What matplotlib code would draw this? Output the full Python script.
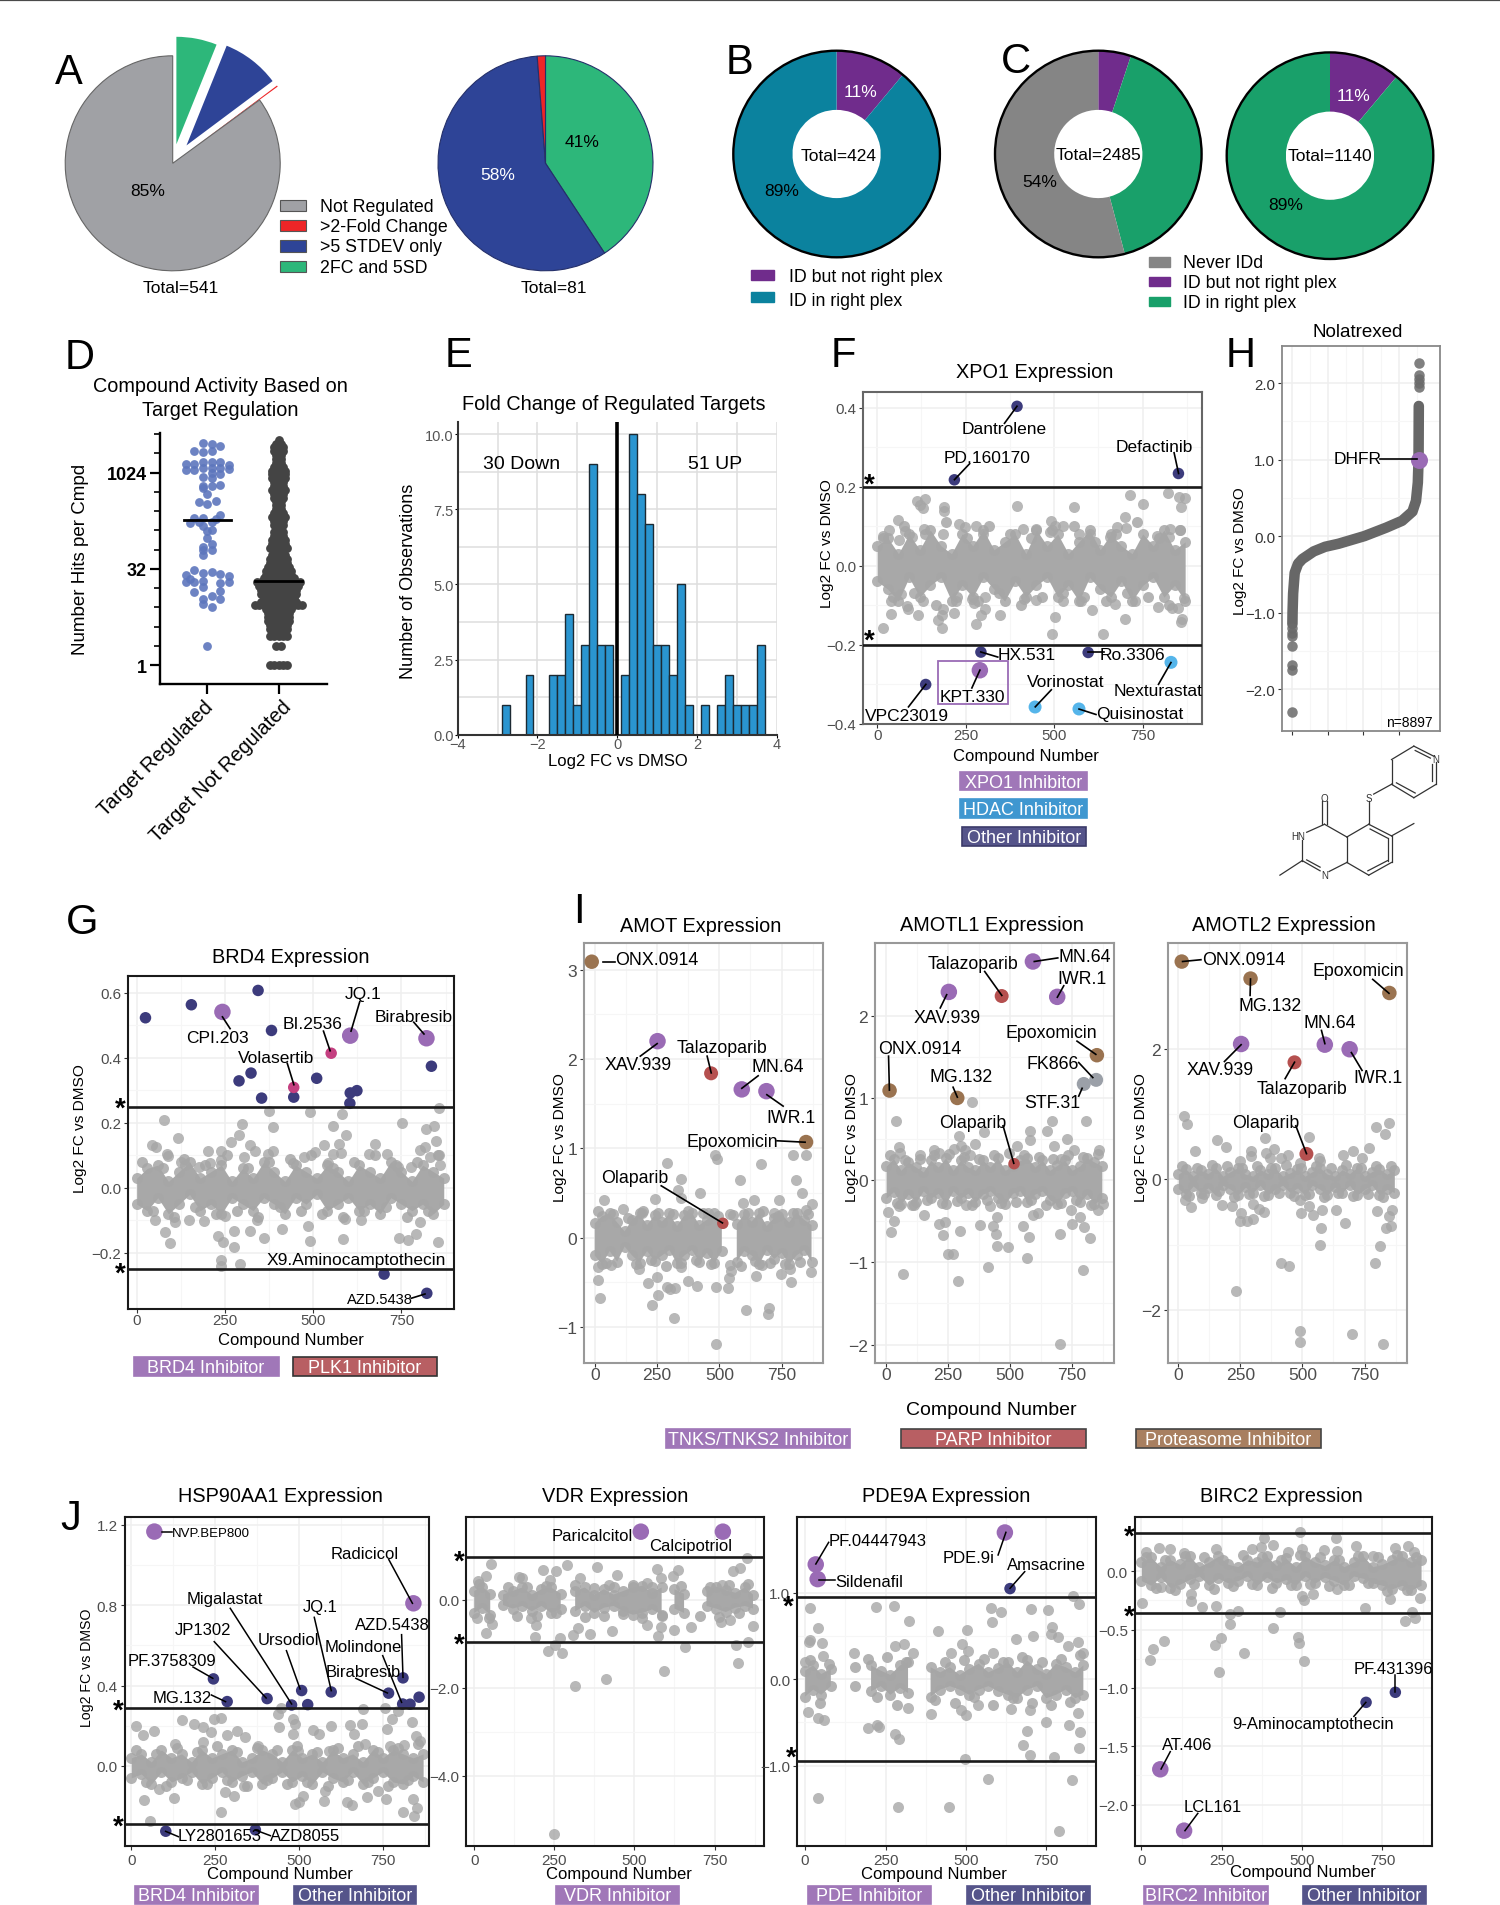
import numpy as np
import matplotlib
matplotlib.use("Agg")
import matplotlib.pyplot as plt
from matplotlib.lines import Line2D
from matplotlib.patches import Circle, Rectangle
from matplotlib.ticker import NullFormatter
from matplotlib.transforms import Affine2D

plt.rcParams['font.family'] = ['Liberation Sans', 'DejaVu Sans']

nan = float('nan')

# pies
a_all = [33, 47, 1, 460]
a_reg = [33, 47, 1]
b_vals = [47, 377]
c_all = [127, 1013, 1345]
c_seen = [127, 1013]

# D: swarm values, offset from the category centre and log2 of the hits
reg_off = [-.06, .06, .18, -.18, -.06, .06, -.3, -.18, -.06, .06, .18, .3, -.3, -.18, -.06, .06, .18, .3, .06, .18,
           -.06, .06, -.06, .06, .18, -.06, 0, -.12, 0, .12, .18, -.18, -.06, .12, -.24, -.12, .06, -.06, 0, .06,
           0, .06, -.06, .06, -.06, -.06, -.18, -.06, .06, .18, -.3, .3, -.24, -.3, -.18, -.06, .18, .3, -.06, -.18,
           .18, .06, -.06, .18, -.06, .06, 0]
reg_log2 = [11.55, 11.46, 11.36, 11.14, 11.04, 11.11, 10.43, 10.43, 10.55, 10.52, 10.55, 10.41, 10.14, 10.14, 10.23,
            10.23, 10.23, 10.16, 9.98, 9.93, 9.79, 9.71, 9.3, 9.29, 9.36, 9.18, 8.91, 8.45, 8.36, 8.5, 7.82, 7.64, 7.64,
            7.57, 7.39, 7.43, 7.43, 7.2, 6.98, 7.02, 6.61, 6.27, 6.14, 6, 6, 5.73, 4.93, 4.79, 4.84, 4.71, 4.7, 4.64,
            4.48, 4.3, 4.3, 4.39, 4.27, 4.3, 4.07, 3.82, 3.86, 3.59, 3.46, 3.45, 3.18, 3, 1]
reg_median = 7.54
nr_bins = [11.7, 11.5, 11.3, 11.1, 10.9, 10.7, 10.5, 10.3, 10.1, 9.9, 9.7, 9.5, 9.3, 9.1, 8.9, 8.7, 8.5, 8.3, 8.1, 7.9,
           7.7, 7.5, 7.3, 7.1, 6.9, 6.7, 6.5, 6.3, 6.1, 5.9, 5.7, 5.5, 5.3, 5.1, 4.9, 4.7, 4.5, 4.3, 4.1, 3.9, 3.7, 3.5,
           3.3, 3.1, 2.9, 2.7, 2.5, 2.3, 2.1, 1.9, 1.7, 1.5, 1.0, 0]
nr_counts = [1, 2, 3, 3, 2, 2, 2, 3, 4, 4, 4, 3, 3, 4, 3, 3, 2, 2, 2, 3, 4, 3, 3, 2, 3, 3, 4, 4, 5, 3, 4, 5, 5, 6, 7, 7,
             8, 11, 10, 9, 9, 8, 9, 12, 7, 6, 6, 6, 5, 5, 4, 5, 2, 5]
nr_median = 4.39

# E: histogram
e_centers = [-2.8, -2.2, -1.6, -1.4, -1.2, -1.0, -.8, -.6, -.4, -.2, .2, .4, .6, .8, 1.0, 1.2, 1.4, 1.6, 1.8, 2.2, 2.6,
             2.8, 3.0, 3.2, 3.4, 3.6]
e_counts = [1, 2, 2, 2, 4, 1, 3, 9, 3, 3, 2, 10, 8, 7, 3, 3, 2, 5, 1, 1, 1, 2, 1, 1, 1, 3]

# H: ranked fold change
h_rank = [0, 10, 50, 160, 400, 700, 1500, 2300, 3250, 5070, 6600, 7720, 8450, 8700, 8830, 8880, 8897]
h_fc = [-1.15, -1.0, -.75, -.48, -.36, -.3, -.2, -.14, -.1, 0, .11, .2, .32, .46, .7, 1.0, 1.7]
h_low = [-1.2, -1.27, -1.3, -1.43, -1.68, -1.75, -2.3]
h_high = [1.95, 2.0, 2.05, 2.1, 2.26]
h_hit = (8880, 1.0)

# compound screens: dense core, points just off the core, sparse compounds, named hits
band_x = [0, 30, 60, 90, 120, 150, 180, 210, 240, 270, 300, 330, 360, 390, 420, 450, 480, 510, 540, 570, 600, 630, 660,
          690, 720, 750, 780, 810, 840, 870]
near_x = [15, 45, 75, 105, 135, 165, 195, 225, 255, 285, 315, 345, 375, 405, 435, 465, 495, 525, 555, 585, 615, 645, 675,
          705, 735, 765, 795, 825, 855]

f_top = [.05, .07, .03, .08, .04, .09, .05, .03, .08, .05, .09, .04, .06, .08, .03, .09, .05, .08, .03, .06, .09, .04,
         .08, .05, .03, .08, .05, .09, .04, .06]
f_bot = [-.04, -.06, -.09, -.03, -.08, -.05, -.03, -.09, -.05, -.08, -.03, -.06, -.09, -.04, -.08, -.05, -.03, -.08,
         -.05, -.09, -.03, -.06, -.08, -.04, -.09, -.05, -.03, -.08, -.05, -.09]
f_near = [.07, -.08, .1, -.07, .08, -.1, .11, -.08, .07, -.09, .1, -.07, .08, -.1, .07, -.08, .09, -.07, .1, -.08, .06,
          -.09, .08, -.07, .11, -.08, .07, -.1, .09]
f_gray = [(112, .164), (120, .154), (135, .169), (130, .145), (188, .147), (190, .139), (59, .116), (15, .076), (32, .09),
          (79, .088), (62, .065), (132, .092), (97, .072), (230, .104), (248, .097), (280, .099), (185, .081), (299, .081),
          (395, .15), (412, .093), (450, .093), (555, .149), (491, .113), (501, .099), (526, .101), (488, .086), (571, .079),
          (601, .079), (715, .179), (752, .155), (700, .123), (677, .097), (702, .095), (657, .072), (791, .076), (822, .184),
          (854, .173), (869, .17), (857, .148), (826, .092), (855, .09), (823, .072), (16, -.158), (40, -.123), (38, -.089),
          (66, -.073), (85, -.103), (87, -.109), (116, -.126), (129, -.089), (185, -.109), (183, -.126), (173, -.138),
          (184, -.158), (217, -.12), (223, -.089), (267, -.085), (274, -.094), (305, -.08), (305, -.109), (293, -.126),
          (280, -.147), (346, -.124), (416, -.085), (448, -.087), (503, -.131), (494, -.174), (526, -.089), (576, -.089),
          (607, -.112), (637, -.172), (673, -.097), (701, -.136), (728, -.089), (793, -.105), (834, -.108), (851, -.108),
          (860, -.135), (857, -.142), (866, -.082)]
f_hits = [(395, .403), (218, .217), (851, .233), (293, -.219), (596, -.22), (137, -.301), (290, -.265), (446, -.358),
          (570, -.363), (830, -.245)]
f_kinds = ['other', 'other', 'other', 'other', 'other', 'other', 'target', 'hdac', 'hdac', 'hdac']

g_top = [.03, .06, .07, .02, .05, .08, .03, .05, .07, .02, .06, .03, .08, .05, .02, .07, .05, .03, .07, .05, .02, .07,
         .05, .03, .08, .05, .02, .07, .05, .03]
g_bot = [-.05, -.07, -.03, -.08, -.05, -.02, -.07, -.05, -.08, -.03, -.05, -.07, -.03, -.05, -.08, -.03, -.05, -.02,
         -.07, -.05, -.03, -.07, -.05, -.08, -.03, -.05, -.07, -.05, -.08, -.05]
g_near = [.08, -.07, .06, -.09, .09, -.06, .07, -.08, .1, -.07, .06, -.09, .08, -.06, .09, -.07, .1, -.08, .06, -.09, .08,
          -.07, .1, -.06, .07, -.09, .08, -.07, .1]
g_gray = [(78, .209), (43, .131), (55, .125), (90, .098), (87, .103), (116, .153), (127, .081), (137, .07), (202, .112),
          (207, .078), (176, .063), (238, .112), (238, .087), (267, .14), (289, .164), (298, .195), (321, .133), (335, .114),
          (303, .095), (386, .186), (376, .235), (387, .114), (371, .103), (442, .076), (475, .096), (491, .233), (530, .131),
          (506, .111), (542, .076), (555, .191), (582, .226), (574, .136), (592, .164), (556, .103), (578, .107), (676, .135),
          (657, .105), (708, .105), (751, .199), (740, .065), (777, .065), (802, .116), (819, .18), (842, .189), (856, .245),
          (848, .144), (816, .125), (831, .096), (857, .101), (860, .07), (79, -.135), (94, -.168), (51, -.1), (108, -.105),
          (149, -.098), (192, -.102), (231, -.149), (246, -.166), (275, -.182), (238, -.221), (240, -.24), (292, -.233),
          (249, -.087), (277, -.131), (321, -.131), (340, -.1), (361, -.155), (413, -.127), (484, -.116), (491, -.164),
          (584, -.157), (590, -.095), (636, -.1), (743, -.153), (770, -.16), (790, -.142), (802, -.105), (854, -.166)]
g_hits = [(25, .523), (155, .563), (344, .607), (382, .484), (290, .329), (324, .353), (354, .276), (445, .279), (510, .337),
          (605, .292), (624, .299), (604, .26), (835, .374), (701, -.265), (822, -.324), (243, .541), (605, .468), (821, .46),
          (551, .414), (445, .309)]
g_kinds = ['other'] * 15 + ['target'] * 3 + ['plk'] * 2

amot_top = [.16, .24, .27, .17, .07, .2, .27, .14, .25, .18, .27, .13, .25, .28, .14, .2, .27, .16, nan, .15, .26, .18, .28,
            .13, .22, .26, .17, .28, .2, .14]
amot_bot = [-.2, -.3, -.15, -.27, -.1, -.2, -.28, -.15, -.26, -.2, -.14, -.29, -.2, -.14, -.27, -.17, -.29, -.15, nan,
            -.27, -.15, -.2, -.3, -.14, -.24, -.17, -.3, -.2, -.14, -.27]
amot_near = [.3, -.28, .26, nan, .22, -.3, .3, -.25, .28, -.32, .26, -.28, .3, -.25, .27, -.3, .24, nan, .25, -.32, .28,
             -.26, .3, -.28, .24, -.3, .28, -.27, .26]
amot_gray = [(39, .42), (113, .32), (190, .27), (240, .43), (289, .84), (346, .66), (336, .53), (346, .44), (424, .5),
             (482, .93), (492, .88), (582, .64), (668, .82), (594, .39), (639, .42), (738, .42), (807, .64), (795, .93),
             (848, .93), (830, .5), (871, .38), (848, .31), (541, .26), (455, .27), (721, .27), (14, -.47), (23, -.68),
             (14, -.33), (66, -.31), (178, -.35), (213, -.51), (250, -.44), (254, -.64), (230, -.75), (291, -.55),
             (301, -.58), (324, -.57), (318, -.9), (348, -.33), (373, -.49), (410, -.54), (486, -.55), (533, -.56),
             (537, -.45), (541, -.31), (547, -.37), (486, -1.19), (609, -.81), (701, -.79), (697, -.86), (746, -.41),
             (789, -.5), (783, -.35), (869, -.38), (648, -.43), (670, -.31)]
amot_hits = [(-12, 3.09), (252, 2.2), (467, 1.84), (590, 1.66), (689, 1.64), (848, 1.07), (514, .16)]
amot_kinds = ['prot', 'target', 'parp', 'target', 'target', 'prot', 'parp_small']

l1_top = [.17, .26, .12, .22, .16, .1, .24, .16, .27, .12, .24, .16, .12, .24, .16, .27, .12, .17, .24, .27, .16, .24, .12,
          .18, .24, .12, .17, .27, .22, .17]
l1_bot = [-.22, -.14, -.29, -.17, -.27, -.13, -.22, -.16, -.29, -.13, -.22, -.16, -.27, -.17, -.13, -.22, -.29, -.16, -.13,
          -.27, -.17, -.13, -.24, -.29, -.16, -.13, -.27, -.17, -.29, -.22]
l1_near = [.3, -.28, .24, -.3, .26, -.24, .3, -.28, .32, -.25, .28, -.3, .26, -.24, .3, -.28, .33, -.26, .3, -.24, .28, -.3,
           .26, -.28, .31, -.24, .28, -.3, .32]
l1_gray = [(348, .95), (38, .72), (53, .4), (55, .33), (136, .31), (193, .37), (213, .33), (294, .54), (274, .38), (303, .42),
           (317, .37), (339, .3), (360, .44), (394, .58), (528, .41), (580, .6), (580, .49), (647, .6), (668, .72), (678, .41),
           (728, .5), (706, .26), (756, .37), (807, .72), (859, .37), (9, -.39), (33, -.5), (21, -.63), (67, -1.14), (50, -.32),
           (114, -.3), (153, -.43), (213, -.53), (239, -.51), (231, -.67), (299, -.62), (251, -.9), (270, -.9), (289, -1.23),
           (322, -.3), (380, -.54), (420, -.32), (430, -.56), (442, -.65), (446, -.45), (446, -.8), (492, -.81), (411, -1.06),
           (552, -.56), (575, -.69), (568, -.95), (592, -.43), (613, -.4), (701, -.66), (750, -.53), (747, -.36), (781, -.45),
           (800, -.57), (823, -.7), (792, -1.09), (702, -1.99), (876, -.29), (855, -.36)]
l1_hits = [(592, 2.66), (466, 2.24), (690, 2.23), (253, 2.29), (14, 1.09), (287, 1.0), (850, 1.52), (847, 1.22), (797, 1.17),
           (516, .2)]
l1_kinds = ['target', 'parp', 'target', 'target', 'prot', 'prot', 'prot', 'gray', 'gray', 'parp_small']

l2_top = [.08, .16, .05, .14, .09, .18, .05, .12, .18, .08, .05, .15, .09, .18, .05, .1, .16, .05, .12, .18, .08, .05, .15,
          .09, .18, .05, .12, .16, .08, .14]
l2_bot = [-.14, -.23, -.1, -.2, -.13, -.24, -.09, -.15, -.24, -.12, -.2, -.09, -.24, -.15, -.09, -.2, -.13, -.24, -.09,
          -.15, -.24, -.12, -.2, -.09, -.24, -.15, -.09, -.24, -.15, -.2]
l2_near = [.2, -.26, .17, -.22, .22, -.18, .2, -.27, .18, -.22, .21, -.26, .18, -.2, .22, -.26, .17, -.22, .2, -.27, .18,
           -.2, .22, -.26, .17, -.22, .2, -.27, .21]
l2_gray = [(22, .97), (34, .85), (67, .44), (155, .61), (191, .5), (291, .44), (293, .36), (250, .28), (348, .63), (353, .4),
           (384, .46), (370, .33), (413, .33), (442, .37), (525, .65), (568, .33), (571, .28), (490, .25), (702, .43),
           (740, .32), (769, .48), (797, .8), (833, .69), (849, .87), (663, .37), (26, -.32), (53, -.42), (95, -.29), (176, -.39),
           (215, -.41), (253, -.52), (250, -.64), (275, -.63), (301, -.6), (301, -.38), (324, -.45), (344, -.5), (490, -.31),
           (494, -.51), (528, -.4), (542, -.54), (577, -.46), (573, -.75), (570, -1.01), (637, -.46), (671, -.66), (413, -1.28),
           (447, -1.32), (231, -1.7), (490, -2.32), (490, -2.48), (700, -2.37), (823, -2.51), (792, -1.28), (811, -1.02),
           (835, -.75), (855, -.71), (849, -.56), (861, -.46), (800, -.48)]
l2_hits = [(14, 3.33), (291, 3.07), (850, 2.85), (253, 2.07), (590, 2.06), (690, 1.99), (468, 1.79), (516, .39)]
l2_kinds = ['prot', 'prot', 'prot', 'target', 'target', 'target', 'parp', 'parp']

hsp_top = [.04, .06, .02, .08, .04, .06, .02, .08, .04, .06, .08, .02, .04, .08, .06, .02, .08, .04, .06, .02, .08,
           .04, .06, .02, .08, .04, .08, .06, .04, .06]
hsp_bot = [-.06, -.04, -.09, -.03, -.08, -.06, -.03, -.09, -.06, -.03, -.08, -.05, -.03, -.09, -.06, -.03, -.08, -.05,
           -.09, -.03, -.06, -.08, -.03, -.09, -.06, -.03, -.08, -.09, -.05, -.08]
hsp_near = [.08, -.08, .06, -.1, .09, -.07, .07, -.09, .1, -.07, .07, -.1, .09, -.07, .08, -.09, .1, -.08, .07, -.1, .09,
            -.07, .1, -.08, .07, -.1, .09, -.07, .11]
hsp_gray = [(14, .197), (35, .156), (68, .176), (152, .226), (188, .207), (215, .196), (248, .234), (267, .237), (239, .167),
            (286, .156), (314, .176), (339, .143), (215, .118), (131, .109), (440, .192), (447, .289), (437, .259), (482, .234),
            (489, .209), (482, .159), (541, .179), (560, .159), (596, .201), (651, .204), (665, .159), (689, .209), (692, .284),
            (757, .287), (778, .234), (762, .184), (796, .275), (838, .217), (848, .151), (862, .126), (698, .109), (771, .101),
            (813, .104), (377, .101), (496, .076), (588, .076), (55, -.275), (39, -.172), (128, -.161), (269, -.231), (84, -.114),
            (281, -.131), (307, -.148), (335, -.098), (489, -.189), (499, -.181), (513, -.148), (574, -.177), (577, -.123),
            (644, -.181), (658, -.194), (703, -.156), (759, -.164), (809, -.231), (844, -.25), (852, -.211), (841, -.164),
            (736, -.123)]
hsp_hits = [(245, .433), (286, .32), (405, .335), (478, .303), (508, .375), (526, .305), (596, .368), (767, .362), (810, .438),
            (809, .308), (831, .307), (858, .342), (103, -.325), (370, -.318), (69, 1.166), (841, .809)]
hsp_kinds = ['other'] * 14 + ['target'] * 2

vdr_bx = [0, 25, 50, 70, 90, 120, 150, 180, 210, 240, 270, 293, 315, 345, 375, 405, 435, 465, 495, 525, 555, 585, 605, 625,
          655, 690, 725, 755, 785, 815, 845, 870]
vdr_top = [.2, .3, .14, nan, .12, .2, .28, .12, .24, .28, .14, nan, .2, .28, .12, .24, .12, .2, .28, .32, .16, .28, nan,
           .24, .14, nan, .2, .3, .22, .16, .28, .12]
vdr_bot = [-.3, -.18, -.34, nan, -.12, -.2, -.14, -.26, -.14, -.3, -.2, nan, -.26, -.14, -.3, -.18, -.14, -.26, -.34,
           -.3, -.22, -.34, nan, -.2, -.3, nan, -.14, -.2, -.28, -.18, -.14, -.2]
vdr_near = [.35, -.42, nan, .28, -.38, .3, -.36, .32, -.3, nan, .34, -.4, .26, -.38, .3, -.32, .34, -.42, .3, -.38, nan,
            .32, nan, -.36, .3, -.4, .34, -.3, .36]
vdr_gray = [(52, .81), (13, .42), (38, .54), (216, .67), (289, .79), (256, .65), (383, .75), (330, .5), (421, .34), (446, .56),
            (570, .71), (635, .67), (620, .55), (583, .5), (850, .94), (829, .73), (809, .65), (141, .52), (149, .5), (237, .46),
            (539, .38), (772, .34), (38, -.75), (56, -.55), (9, -.42), (190, -.84), (178, -.42), (193, -.57), (231, -1.16),
            (252, -1.03), (267, -.88), (274, -1.2), (308, -.8), (361, -.77), (323, -.65), (431, -.7), (315, -1.97), (412, -1.8),
            (249, -5.33), (573, -.82), (583, -.61), (623, -.69), (657, -1.07), (676, -.61), (591, -1.62), (816, -1.03),
            (854, -.97), (822, -1.43), (870, -.59), (770, -.5), (797, -.46), (539, -.57)]
vdr_hits = [(520, 1.55), (776, 1.55)]
vdr_kinds = ['target', 'target']

pde_bx = [0, 25, 50, 80, 118, 155, 180, 205, 235, 265, 295, 320, 355, 390, 420, 450, 480, 510, 540, 570, 600, 630, 660, 690,
          720, 750, 780, 810, 840, 865]
pde_top = [.1, .16, .06, .12, nan, .14, nan, .16, .1, .05, .16, .2, nan, .14, .08, .14, .05, .12, .18, .08, .13, .2, .08,
           .22, .12, .06, .18, .14, .08, .16]
pde_bot = [-.2, -.12, -.18, -.08, nan, -.08, nan, -.14, -.08, -.18, -.1, -.16, nan, -.2, -.12, -.08, -.12, -.18, -.12, -.08,
           -.14, -.18, -.22, -.12, -.08, -.22, -.18, -.12, -.22, -.18]
pde_near = [.22, -.28, .18, nan, nan, nan, .24, -.2, .26, -.3, .2, nan, nan, -.24, .2, -.28, .22, -.2, .24, -.3, .2, -.22,
            .26, -.28, .2, -.3, .24, -.26, .28]
pde_gray = [(16, .82), (219, .84), (276, .85), (324, .68), (413, .56), (504, .57), (579, .83), (610, .78), (581, .66), (703, .81),
            (754, .8), (767, .61), (833, .97), (853, .87), (41, .59), (11, .43), (16, .46), (51, .42), (656, .47), (707, .5),
            (764, .52), (786, .49), (817, .38), (847, .43), (307, .41), (279, .38), (489, .41), (153, .3), (336, .3), (454, .3),
            (507, .33), (583, .3), (864, .3), (57, .27), (0, .2), (10, -.38), (39, -.45), (59, -.47), (196, -.57), (224, -.53),
            (230, -.55), (279, -.63), (291, -.69), (321, -.33), (390, -.4), (486, -.36), (500, -.41), (536, -.3), (640, -.34),
            (700, -.36), (750, -.5), (689, -.6), (676, -.76), (700, -.88), (773, -.9), (496, -.92), (821, -.53), (856, -.61),
            (851, -.8), (847, -.39), (569, -1.16), (829, -1.17), (39, -1.38), (289, -1.48), (446, -1.48), (790, -1.76)]
pde_hits = [(33, 1.33), (39, 1.16), (621, 1.7), (637, 1.05)]
pde_kinds = ['target', 'target', 'target', 'other']

birc_top = [.08, .12, .04, .1, .06, .13, .04, .08, .13, .06, .04, .1, .08, .13, .05, .11, .04, .13, .08, .05, .1, .04, .08,
            .13, .04, .06, .1, .13, .08, .1]
birc_bot = [-.08, -.12, -.05, -.14, -.11, -.07, -.04, -.12, -.06, -.1, -.08, -.04, -.12, -.05, -.1, -.07, -.12, -.04, -.1,
            -.05, -.08, -.12, -.04, -.06, -.1, -.12, -.15, -.12, -.16, -.12]
birc_near = [.12, -.14, .1, -.16, .13, -.11, .12, -.15, .1, -.13, .14, -.11, .12, -.14, .1, -.12, .14, -.11, .12, -.13, .1,
             -.12, .13, -.1, .12, -.17, .14, -.16, .12]
birc_gray = [(493, .34), (380, .286), (604, .286), (54, .197), (90, .191), (14, .163), (133, .157), (233, .191), (343, .191),
             (373, .206), (411, .226), (501, .191), (569, .183), (610, .177), (669, .214), (790, .203), (829, .22), (847, .163),
             (719, .134), (457, .163), (1, -.271), (61, -.137), (154, -.194), (154, -.251), (190, -.303), (233, -.294),
             (276, -.366), (301, -.337), (277, -.451), (411, -.486), (430, -.346), (247, -.574), (230, -.634), (319, -.703),
             (241, -.866), (486, -.56), (490, -.617), (507, -.771), (37, -.666), (26, -.757), (69, -.594), (501, -.209),
             (507, -.243), (697, -.317), (773, -.237), (820, -.429), (841, -.346), (851, -.4), (867, -.229), (533, -.194),
             (607, -.151)]
birc_hits = [(790, -1.037), (699, -1.123), (59, -1.697), (133, -2.223)]
birc_kinds = ['other', 'other', 'target', 'target']

# styles
KIND_COLOR = {'other': '#3c3b7c', 'target': '#9a6bb5', 'hdac': '#55b5ea', 'plk': '#c43f80', 'parp': '#b5504f',
              'parp_small': '#b5504f', 'prot': '#9a7350', 'gray': '#9ba0a8'}
KIND_PX = {'other': 11.5, 'target': 16.5, 'hdac': 13, 'plk': 11.5, 'parp': 14, 'parp_small': 11.5, 'prot': 14.5, 'gray': 14}
GRAY = '#a6a6a6'
PURPLE_TAG, HDAC_TAG, OTHER_TAG, RED_TAG, BROWN_TAG = '#a077b8', '#3f97d0', '#55548a', '#b85f63', '#a87f60'

W, H = 1500, 1906
fig = plt.figure(figsize=(W / 100, H / 100), dpi=100)
px = Affine2D().scale(1 / W, -1 / H).translate(0, 1) + fig.transFigure

# crops of the reference used to place text: left, top, x stretch, y stretch
Z1, Z2 = (0, 0, 2.09, 3), (750, 0, 2.09, 3)
Z3, Z4 = (50, 330, 2.119, 2.904), (800, 320, 2.24, 2.751)
Z5, Z6 = (50, 900, 1.96, 2.8), (830, 900, 2.34, 2.8)
Z7, Z8 = (50, 1470, 2.119, 3), (780, 1470, 2.178, 3)
TITLE = 14.3


def zp(z, x, y):
    return z[0] + x / z[2], z[1] + y / z[3]


def txt(z, x, y, s, size=12.5, color='black', ha='center', rot=0, **kw):
    fx, fy = zp(z, x, y)
    return fig.text(fx, fy + 1, s, transform=px, fontsize=size, color=color, ha=ha, va='center', rotation=rot, **kw)


def lead(z, x1, y1, x2, y2, lw=1.2, color='black'):
    a, b = zp(z, x1, y1), zp(z, x2, y2)
    fig.add_artist(Line2D([a[0], b[0]], [a[1], b[1]], transform=px, color=color, lw=lw))


def rect(z, x1, y1, x2, y2, color, edge=None, lw=1):
    a, b = zp(z, x1, y1), zp(z, x2, y2)
    fig.add_artist(Rectangle((a[0], a[1]), b[0] - a[0], b[1] - a[1], transform=px, facecolor=color,
                             edgecolor=edge or color, lw=lw))


def tag(z, x1, y1, x2, y2, color, s, edge=None):
    rect(z, x1, y1, x2, y2, color, edge, 1.2)
    txt(z, (x1 + x2) / 2, (y1 + y2) / 2, s, 13, 'white')


def star(z, x, y):
    txt(z, x, y + 6, '*', 20, fontweight='bold')


def axes_px(l, t, r, b):
    return fig.add_axes([l / W, 1 - b / H, (r - l) / W, (b - t) / H])


def s_px(d):
    return (d * 0.72) ** 2


def pie_axes(cx, cy, R, vals, colors, explode=None, hole=None, edge=None):
    pad = 1.35
    ax = axes_px(cx - pad * R, cy - pad * R, cx + pad * R, cy + pad * R)
    wp = {'linewidth': 0.8 if edge else 0, 'edgecolor': edge or 'none'}
    if hole:
        wp['width'] = 1 - hole
    ax.pie(vals, colors=colors, startangle=90, counterclock=False, explode=explode, radius=1, wedgeprops=wp)
    ax.set_xlim(-pad, pad)
    ax.set_ylim(-pad, pad)
    if hole:
        ax.add_patch(Circle((0, 0), 1, fill=False, ec='black', lw=1.7))
    return ax


def screen(box, xlim, ylim, yt, ytl, cuts, bx, top, bot, near, gray, hits, kinds, spine='#222222', tick=10.8, xpad=0):
    ax = axes_px(*box)
    ax.set_xlim(*xlim)
    ax.set_ylim(*ylim)
    ax.set_xticks([0, 250, 500, 750], ['0', '250', '500', '750'])
    ax.set_yticks(yt, ytl)
    ax.set_xticks([125, 375, 625, 875], minor=True)
    ax.set_yticks([(a + b) / 2 for a, b in zip(yt[:-1], yt[1:])], minor=True)
    ax.tick_params(which='major', labelsize=tick, labelcolor='#4d4d4d', color='#333333', length=3, pad=2)
    ax.tick_params(axis='x', which='major', pad=xpad)
    ax.tick_params(which='minor', length=0)
    ax.grid(True, which='major', color='#efefef', lw=1.1)
    ax.grid(True, which='minor', color='#f6f6f6', lw=0.8)
    ax.set_axisbelow(True)
    for sp in ax.spines.values():
        sp.set_color(spine)
        sp.set_linewidth(1.5)
    ax.fill_between(bx, bot, top, color='#a8a8a8', lw=0, zorder=1.5)
    ax.scatter(bx, top, s=s_px(11), color=GRAY, alpha=0.85, lw=0, zorder=2)
    ax.scatter(bx, bot, s=s_px(11), color=GRAY, alpha=0.85, lw=0, zorder=2)
    ax.scatter(near_x, near, s=s_px(11), color=GRAY, alpha=0.85, lw=0, zorder=2)
    gx, gy = zip(*gray)
    ax.scatter(gx, gy, s=s_px(11), color=GRAY, alpha=0.8, lw=0, zorder=2.1)
    hx, hy = zip(*hits)
    ax.scatter(hx, hy, s=[s_px(KIND_PX[k]) for k in kinds], c=[KIND_COLOR[k] for k in kinds], lw=0, zorder=3)
    for c in cuts:
        ax.axhline(c, color='#1a1a1a', lw=1.9, zorder=4)
    return ax


# header rule
fig.add_artist(Line2D([0, W], [1, 1], transform=px, color='#4a4a4a', lw=1.6))

# A
AC = ['#2db77a', '#2e4497', '#ee2527', '#a0a1a5']
ax_a = pie_axes(172.7, 164.3, 107.5, a_all, AC, explode=[.18, .21, .21, 0])
ax_a.patches[3].set_edgecolor('#666666')
ax_a.patches[3].set_linewidth(0.8)
pie_axes(545.5, 164.3, 107.5, a_reg, ['#2db77a', '#2e4497', '#ee2527'], edge='#25306a')
txt(Z1, 143, 215, 'A', 30)
txt(Z1, 308, 572, '85%', 12.5)
txt(Z1, 378, 862, 'Total=541', 12.5)
txt(Z1, 1216, 425, '41%', 12.5)
txt(Z1, 1040, 525, '58%', 12.5, 'white')
txt(Z1, 1157, 862, 'Total=81', 12.5)
for yy, c, s in zip([(602, 636), (662, 696), (724, 758), (785, 819)], ['#a0a1a5', '#ee2527', '#2e4497', '#2db77a'],
                    ['Not Regulated', '>2-Fold Change', '>5 STDEV only', '2FC and 5SD']):
    rect(Z1, 586, yy[0], 640, yy[1], c, '#555555', 0.8)
    txt(Z1, 668, sum(yy) / 2, s, 12.8, ha='left')

# B
pie_axes(836.6, 155, 103.3, b_vals, ['#702c8c', '#0b829e'], hole=.427)
txt(Z1, 1545, 185, 'B', 30)
txt(Z2, 231, 275, '11%', 12.5, 'white')
txt(Z2, 67, 573, '89%', 12.5)
txt(Z2, 185, 467, 'Total=424', 12.5)
rect(Z2, 2, 812, 50, 842, '#702c8c')
rect(Z2, 2, 880, 50, 908, '#0b829e')
txt(Z2, 82, 828, 'ID but not right plex', 12.8, ha='left')
txt(Z2, 82, 900, 'ID in right plex', 12.8, ha='left')

# C
pie_axes(1098.3, 155, 103.3, c_all, ['#702c8c', '#19a06a', '#858585'], hole=.427)
pie_axes(1330, 156.7, 103.3, c_seen, ['#702c8c', '#19a06a'], hole=.427)
txt(Z2, 556, 182, 'C', 30)
txt(Z2, 605, 545, '54%', 12.5)
txt(Z2, 728, 463, 'Total=2485', 12.5)
txt(Z2, 1212, 467, 'Total=1140', 12.5)
txt(Z2, 1262, 287, '11%', 12.5, 'white')
txt(Z2, 1119, 615, '89%', 12.5)
for yy, c, s in zip([(775, 803), (835, 862), (893, 920)], ['#858585', '#702c8c', '#19a06a'],
                    ['Never IDd', 'ID but not right plex', 'ID in right plex']):
    rect(Z2, 833, yy[0], 877, yy[1], c)
    txt(Z2, 904, sum(yy) / 2, s, 12.8, ha='left')

# D
ax = axes_px(159.5, 434, 327, 684.7)
ax.set_yscale('log', base=2)
ax.set_xlim(-.67, 1.68)
ax.set_ylim(2 ** -.96, 2 ** 12.05)
ax.scatter(reg_off, 2.0 ** np.array(reg_log2), s=s_px(8.8), color='#5d76bd', alpha=.9, lw=0, zorder=2)
nx, ny = [], []
for b, n in zip(nr_bins, nr_counts):
    for i in range(n):
        nx.append(1 + (i - (n - 1) / 2) * .06)
        ny.append(2.0 ** b)
ax.scatter(nx, ny, s=s_px(8.8), color='#444444', lw=0, zorder=2)
ax.plot([-.33, .33], [2 ** reg_median] * 2, color='black', lw=2, zorder=3)
ax.plot([.67, 1.33], [2 ** nr_median] * 2, color='black', lw=2, zorder=3)
ax.set_yticks([1, 32, 1024], ['1', '32', '1024'], fontweight='bold', fontsize=13)
ax.set_yticks([2.0 ** i for i in range(13)], minor=True)
ax.yaxis.set_minor_formatter(NullFormatter())
ax.set_xticks([0, 1], [])
ax.tick_params(which='major', length=7, width=1.6, pad=2)
ax.tick_params(which='minor', length=4, width=1.2)
ax.spines[['top', 'right']].set_visible(False)
ax.spines[['left', 'bottom']].set_linewidth(1.7)
txt(Z3, 62, 78, 'D', 30)
txt(Z3, 361, 162, 'Compound Activity Based on', TITLE)
txt(Z3, 361, 232, 'Target Regulation', TITLE)
txt(Z3, 65, 662, 'Number Hits per Cmpd', 13.5, rot=90)
for xx, s in zip([326, 490], ['Target Regulated', 'Target Not Regulated']):
    fx, fy = zp(Z3, xx, 1068)
    fig.text(fx, fy, s, transform=px, fontsize=14.5, rotation=45, ha='right', va='top', rotation_mode='anchor')

# E
ax = axes_px(457.7, 423, 776.8, 735.6)
ax.set_xlim(-4, 4)
ax.set_ylim(0, 10.41)
ax.bar(e_centers, e_counts, width=.2, color='#2a95d0', edgecolor='#1c2a33', lw=1, zorder=2)
ax.axvline(0, color='black', lw=2.6, zorder=3)
ax.set_xticks([-4, -2, 0, 2, 4], ['−4', '−2', '0', '2', '4'])
ax.set_xticks([-3, -1, 1, 3], minor=True)
ax.set_yticks([0, 2.5, 5, 7.5, 10], ['0.0', '2.5', '5.0', '7.5', '10.0'])
ax.set_yticks([1.25, 3.75, 6.25, 8.75], minor=True)
ax.tick_params(which='major', labelsize=10.5, labelcolor='#555555', length=2, pad=1)
ax.tick_params(axis='x', which='major', pad=0)
ax.tick_params(which='minor', length=0)
ax.grid(True, which='both', color='#dedede', lw=1.1)
ax.set_axisbelow(True)
ax.spines[['top', 'right']].set_visible(False)
ax.spines[['left', 'bottom']].set_color('#333333')
ax.spines[['left', 'bottom']].set_linewidth(1.5)
txt(Z3, 865, 72, 'E', 30)
txt(Z3, 1195, 212, 'Fold Change of Regulated Targets', TITLE)
txt(Z3, 1000, 387, '30 Down', 14)
txt(Z3, 1410, 387, '51 UP', 14)
txt(Z3, 1204, 1250, 'Log2 FC vs DMSO', 12)
txt(Z3, 760, 727, 'Number of Observations', 13, rot=90)

# F
ax = screen((863.4, 392.7, 1201.8, 724.6), (-39, 917), (-.4, .44), [-.4, -.2, 0, .2, .4],
            ['−0.4', '−0.2', '0.0', '0.2', '0.4'], [.2, -.2], band_x, f_top, f_bot, f_near, f_gray, f_hits, f_kinds, '#666666')
txt(Z4, 97, 95, 'F', 30)
txt(Z4, 526, 143, 'XPO1 Expression', TITLE)
txt(Z4, 60, 612, 'Log2 FC vs DMSO', 11.1, rot=90)
txt(Z4, 505, 1197, 'Compound Number', 12)
star(Z4, 155, 447)
star(Z4, 155, 877)
for s, x, y in [('Dantrolene', 458, 298), ('PD.160170', 420, 378), ('Defactinib', 793, 347), ('HX.531', 508, 920),
                ('Ro.3306', 745, 920), ('VPC23019', 240, 1087), ('KPT.330', 387, 1035), ('Vorinostat', 596, 995),
                ('Quisinostat', 762, 1083)]:
    txt(Z4, x, y, s)
nt = txt(Z4, 803, 1020, 'Nexturastat', clip_on=True)
nt.set_clip_box(ax.bbox)
for seg in [(486, 240, 458, 287), (346, 442, 380, 398), (848, 425, 838, 368), (405, 916, 443, 930), (646, 917, 680, 917),
            (282, 1005, 243, 1067), (403, 966, 385, 1015), (527, 1067, 563, 1020), (625, 1073, 663, 1088),
            (831, 945, 803, 1005)]:
    lead(Z4, *seg)
a, b = zp(Z4, 309, 940), zp(Z4, 466, 1058)
fig.add_artist(Rectangle(a, b[0] - a[0], b[1] - a[1], transform=px, fill=False, edgecolor='#9a6bb5', lw=1.3))
tag(Z4, 358, 1245, 643, 1297, PURPLE_TAG, 'XPO1 Inhibitor')
tag(Z4, 358, 1320, 643, 1373, HDAC_TAG, 'HDAC Inhibitor')
tag(Z4, 363, 1397, 640, 1450, OTHER_TAG, 'Other Inhibitor', '#3c3b6a')

# H
ax = axes_px(1282, 346.5, 1440, 731.5)
ax.set_xlim(-733, 10390)
ax.set_ylim(-2.54, 2.49)
ax.plot(h_rank, h_fc, color='#676767', lw=7.6, solid_capstyle='round', zorder=2)
ax.scatter([h_rank[0]] * len(h_low), h_low, s=s_px(10.5), color='#6a6a6a', alpha=.85, lw=0, zorder=2)
ax.scatter([h_rank[-1]] * len(h_high), h_high, s=s_px(10.5), color='#6a6a6a', alpha=.85, lw=0, zorder=2)
ax.scatter(*h_hit, s=s_px(17), color='#9a6bb5', lw=0, zorder=3)
ax.set_xticks([0, 2500, 5000, 7500], [])
ax.set_yticks([-2, -1, 0, 1, 2], ['−2.0', '−1.0', '0.0', '1.0', '2.0'])
ax.set_yticks([-1.5, -.5, .5, 1.5], minor=True)
ax.set_xticks([1250, 3750, 6250, 8750], minor=True)
ax.tick_params(which='major', labelsize=10.8, labelcolor='#333333', color='#333333', length=3, pad=2)
ax.tick_params(which='minor', length=0)
ax.grid(True, which='major', color='#efefef', lw=1.1)
ax.grid(True, which='minor', color='#f6f6f6', lw=.8)
ax.set_axisbelow(True)
for sp in ax.spines.values():
    sp.set_color('#888888')
    sp.set_linewidth(1.3)
txt(Z4, 988, 95, 'H', 30)
txt(Z4, 1250, 32, 'Nolatrexed', 13.5)
txt(Z4, 985, 632, 'Log2 FC vs DMSO', 11, rot=90)
txt(Z4, 1248, 382, 'DHFR', 12.5)
lead(Z4, 1300, 385, 1382, 385)
txt(Z4, 1366, 1107, 'n=8897', 10)

# molecule
for seg in [(1375, 1175, 1420, 1203), (1425, 1218, 1425, 1280), (1425, 1280, 1375, 1317), (1375, 1317, 1325, 1280),
            (1325, 1280, 1325, 1212), (1325, 1212, 1375, 1175), (1378, 1187, 1412, 1208), (1415, 1225, 1415, 1272),
            (1378, 1304, 1336, 1276), (1325, 1280, 1285, 1307), (1274, 1325, 1274, 1390), (1274, 1390, 1225, 1425),
            (1225, 1425, 1175, 1390), (1175, 1390, 1135, 1412), (1125, 1432, 1125, 1490), (1125, 1490, 1165, 1518),
            (1185, 1520, 1225, 1495), (1225, 1495, 1225, 1425), (1274, 1390, 1325, 1422), (1325, 1422, 1325, 1495),
            (1325, 1495, 1274, 1530), (1274, 1530, 1225, 1495), (1170, 1326, 1170, 1390), (1180, 1326, 1180, 1390),
            (1325, 1422, 1375, 1388), (1125, 1490, 1075, 1530), (1277, 1403, 1316, 1428), (1316, 1428, 1316, 1490),
            (1272, 1518, 1316, 1490), (1135, 1488, 1165, 1508)]:
    lead(Z4, *seg, lw=.9, color='#333333')
for s, x, y in [('N', 1425, 1207), ('S', 1274, 1315), ('O', 1175, 1315), ('HN', 1117, 1420), ('N', 1175, 1528)]:
    txt(Z4, x, y, s, 7, '#333333')

# G
ax = screen((128, 976.8, 454, 1309.6), (-24.5, 899), (-.371, .652), [-.2, 0, .2, .4, .6],
            ['−0.2', '0.0', '0.2', '0.4', '0.6'], [.25, -.25], band_x, g_top, g_bot, g_near, g_gray, g_hits, g_kinds, '#1a1a1a')
txt(Z5, 62, 62, 'G', 30)
txt(Z5, 472, 158, 'BRD4 Expression', TITLE)
txt(Z5, 58, 637, 'Log2 FC vs DMSO', 11.1, rot=90)
txt(Z5, 473, 1232, 'Compound Number', 12)
star(Z5, 138, 577)
star(Z5, 138, 1040)
for s, x, y in [('CPI.203', 329, 386), ('JQ.1', 614, 262), ('BI.2536', 515, 345), ('Birabresib', 712, 326),
                ('Volasertib', 443, 440), ('X9.Aminocamptothecin', 600, 1008)]:
    txt(Z5, x, y, s)
txt(Z5, 646, 1117, 'AZD.5438', 10.5)
for seg in [(338, 330, 353, 363), (607, 288, 590, 370), (536, 370, 549, 425), (713, 345, 733, 378), (465, 460, 478, 520),
            (708, 1118, 735, 1106)]:
    lead(Z5, *seg)
tag(Z5, 164, 1283, 448, 1336, PURPLE_TAG, 'BRD4 Inhibitor')
tag(Z5, 476, 1283, 758, 1336, RED_TAG, 'PLK1 Inhibitor', '#333333')

# I
screen((584, 943.6, 823, 1363.6), (-43, 916), (-1.4, 3.304), [-1, 0, 1, 2, 3], ['−1', '0', '1', '2', '3'], [], band_x,
       amot_top, amot_bot, amot_near, amot_gray, amot_hits, amot_kinds, '#999999', 12.6)
screen((875, 943.6, 1114, 1363.6), (-44.8, 919), (-2.22, 2.89), [-2, -1, 0, 1, 2], ['−2', '−1', '0', '1', '2'], [], band_x,
       l1_top, l1_bot, l1_near, l1_gray, l1_hits, l1_kinds, '#999999', 12.6)
screen((1167.6, 943.6, 1406.5, 1363.6), (-43, 919), (-2.8, 3.62), [-2, 0, 2], ['−2', '0', '2'], [], band_x,
       l2_top, l2_bot, l2_near, l2_gray, l2_hits, l2_kinds, '#999999', 12.6)
txt(Z5, 1037, 32, 'I', 30)
txt(Z5, 1275, 72, 'AMOT Expression', TITLE)
txt(Z6, 378, 70, 'AMOTL1 Expression', TITLE)
txt(Z6, 1062, 70, 'AMOTL2 Expression', TITLE)
txt(Z5, 1000, 662, 'Log2 FC vs DMSO', 11.1, rot=90)
txt(Z6, 52, 662, 'Log2 FC vs DMSO', 11.1, rot=90)
txt(Z6, 728, 662, 'Log2 FC vs DMSO', 11.1, rot=90)
txt(Z6, 378, 1427, 'Compound Number', 14)
for s, x, y in [('ONX.0914', 1190, 168), ('XAV.939', 1153, 460), ('Talazoparib', 1318, 413), ('MN.64', 1426, 466),
                ('IWR.1', 1452, 610), ('Epoxomicin', 1338, 677), ('Olaparib', 1146, 778)]:
    txt(Z5, x, y, s, 12.8)
for seg in [(1083, 175, 1108, 175), (1190, 405, 1157, 440), (1288, 440, 1296, 487), (1356, 530, 1388, 495),
            (1405, 548, 1437, 580), (1425, 677, 1480, 681), (1198, 803, 1318, 907)]:
    lead(Z5, *seg)
for s, x, y in [('MN.64', 595, 158), ('Talazoparib', 334, 179), ('IWR.1', 590, 220), ('XAV.939', 274, 330),
                ('Epoxomicin', 517, 372), ('ONX.0914', 210, 415), ('FK866', 520, 457), ('MG.132', 307, 493),
                ('STF.31', 520, 567), ('Olaparib', 335, 623), ('ONX.0914', 968, 166), ('MG.132', 1031, 296),
                ('Epoxomicin', 1236, 198), ('MN.64', 1170, 342), ('XAV.939', 912, 476), ('IWR.1', 1283, 498),
                ('Talazoparib', 1105, 527), ('Olaparib', 1020, 622)]:
    txt(Z6, x, y, s, 12.8)
for seg in [(478, 175, 533, 165), (362, 203, 402, 270), (547, 243, 532, 275), (273, 268, 258, 305), (578, 398, 622, 435),
            (137, 440, 139, 535), (582, 458, 615, 500), (288, 527, 298, 555), (590, 530, 582, 552), (405, 635, 430, 740),
            (825, 175, 868, 170), (984, 224, 983, 270), (1270, 225, 1308, 264), (1150, 368, 1158, 405), (962, 408, 923, 455),
            (1220, 430, 1245, 480), (1087, 457, 1065, 503), (1090, 635, 1115, 713)]:
    lead(Z6, *seg)
tag(Z5, 1208, 1483, 1568, 1537, PURPLE_TAG, '')
txt(Z5, 1388, 1510, 'TNKS/TNKS2 Inhibitor', 13, 'white')
tag(Z6, 167, 1483, 599, 1537, RED_TAG, 'PARP Inhibitor', '#444444')
tag(Z6, 717, 1483, 1148, 1537, BROWN_TAG, 'Proteasome Inhibitor', '#444444')

# J
screen((124.6, 1518.3, 428.5, 1847.3), (-19.7, 886), (-.40, 1.237), [0, .4, .8, 1.2], ['0.0', '0.4', '0.8', '1.2'],
       [.29, -.29], band_x, hsp_top, hsp_bot, hsp_near, hsp_gray, hsp_hits, hsp_kinds, '#1a1a1a', 11, 2)
screen((466.2, 1518.3, 764.5, 1847.3), (-25, 906), (-5.61, 1.877), [-4, -2, 0], ['−4.0', '−2.0', '0.0'],
       [.98, -.95], vdr_bx, vdr_top, vdr_bot, vdr_near, vdr_gray, vdr_hits, vdr_kinds, '#1a1a1a', 11, 2)
screen((797.4, 1518.3, 1095.9, 1847.3), (-24, 904), (-1.935, 1.876), [-1, 0, 1], ['−1.0', '0.0', '1.0'],
       [.958, -.942], pde_bx, pde_top, pde_bot, pde_near, pde_gray, pde_hits, pde_kinds, '#1a1a1a', 11, 2)
screen((1134.9, 1518.3, 1432, 1847.3), (-20, 904), (-2.357, .463), [-2, -1.5, -1, -.5, 0],
       ['−2.0', '−1.5', '−1.0', '−0.5', '0.0'], [.326, -.36], band_x, birc_top, birc_bot, birc_near, birc_gray, birc_hits,
       birc_kinds, '#1a1a1a', 11, 2)
txt(Z7, 43, 145, 'J', 30)
txt(Z7, 488, 78, 'HSP90AA1 Expression', TITLE)
txt(Z7, 1198, 78, 'VDR Expression', TITLE)
txt(Z8, 363, 78, 'PDE9A Expression', TITLE)
txt(Z8, 1093, 78, 'BIRC2 Expression', TITLE)
txt(Z7, 78, 590, 'Log2 FC vs DMSO', 10.2, rot=90)
txt(Z7, 487, 1210, 'Compound Number', 12)
txt(Z7, 1205, 1210, 'Compound Number', 12)
txt(Z8, 335, 1210, 'Compound Number', 12)
txt(Z8, 1139, 1205, 'Compound Number', 12)
txt(Z7, 340, 190, 'NVP.BEP800', 9.5)
for s, x, y in [('Radicicol', 666, 250), ('Migalastat', 371, 386), ('JQ.1', 572, 411), ('AZD.5438', 726, 464),
                ('JP1302', 324, 480), ('Ursodiol', 505, 510), ('Molindone', 664, 530), ('PF.3758309', 258, 571),
                ('Birabresib', 663, 605), ('MG.132', 280, 682), ('LY2801653', 360, 1097), ('AZD8055', 541, 1097),
                ('Paricalcitol', 1150, 198), ('Calcipotriol', 1358, 228)]:
    txt(Z7, x, y, s, 12)
for seg in [(238, 188, 258, 188), (718, 272, 768, 403), (382, 418, 512, 705), (560, 445, 596, 665), (745, 497, 748, 625),
            (348, 518, 458, 687), (501, 545, 530, 660), (705, 560, 745, 700), (303, 594, 345, 628), (648, 628, 715, 672),
            (342, 678, 372, 698), (245, 1087, 272, 1103), (435, 1083, 467, 1100)]:
    lead(Z7, *seg, lw=1.1)
star(Z7, 145, 715)
star(Z7, 145, 1065)
star(Z7, 868, 268)
star(Z7, 868, 517)
for s, x, y in [('PF.04447943', 213, 212), ('Sildenafil', 195, 334), ('PDE.9i', 411, 262), ('Amsacrine', 581, 284),
                ('PF.431396', 1335, 595), ('9-Aminocamptothecin', 1162, 762), ('AT.406', 886, 824), ('LCL161', 943, 1010)]:
    txt(Z8, x, y, s, 12)
for seg in [(106, 220, 78, 285), (85, 333, 120, 333), (492, 190, 475, 258), (533, 308, 501, 358), (1340, 618, 1340, 668),
            (1276, 700, 1250, 742), (850, 848, 830, 900), (910, 1033, 882, 1085)]:
    lead(Z8, *seg, lw=1.1)
star(Z8, 18, 405)
star(Z8, 25, 858)
star(Z8, 760, 195)
star(Z8, 760, 433)
tag(Z7, 180, 1250, 440, 1305, PURPLE_TAG, 'BRD4 Inhibitor')
tag(Z7, 517, 1250, 776, 1305, OTHER_TAG, 'Other Inhibitor')
tag(Z7, 1073, 1250, 1333, 1305, PURPLE_TAG, 'VDR Inhibitor')
tag(Z8, 60, 1250, 329, 1305, PURPLE_TAG, 'PDE Inhibitor')
tag(Z8, 407, 1250, 675, 1305, OTHER_TAG, 'Other Inhibitor')
tag(Z8, 793, 1250, 1062, 1305, PURPLE_TAG, 'BIRC2 Inhibitor')
tag(Z8, 1139, 1250, 1407, 1305, OTHER_TAG, 'Other Inhibitor')

fig.savefig('out.png', dpi=100)
